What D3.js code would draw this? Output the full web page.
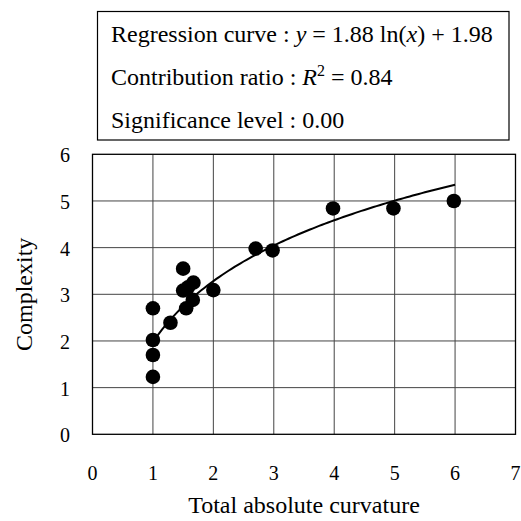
<!DOCTYPE html>
<html>
<head>
<meta charset="utf-8">
<script src="https://cdn.jsdelivr.net/npm/d3@7"></script>
<style>
  body { margin: 0; background: #fff; }
  text { font-family: "Liberation Serif", "Times New Roman", serif; fill: #000; }
</style>
</head>
<body>
<svg id="chart" width="521" height="521"></svg>
<script>
// curvature vs complexity
var curvature  = [1, 1, 1, 1, 1.29, 1.5, 1.5, 1.58, 1.55, 1.67, 1.66, 2, 2.7, 2.98, 3.98, 4.98, 5.98];
var complexity = [2.7, 2.02, 1.7, 1.23, 2.39, 3.55, 3.08, 3.15, 2.7, 3.25, 2.88, 3.09, 3.98, 3.94, 4.84, 4.84, 5.0];
var xTicks = [0, 1, 2, 3, 4, 5, 6, 7];
var yTicks = [0, 1, 2, 3, 4, 5, 6];
var coefA = 1.88, coefB = 1.98;   // y = a ln(x) + b
var fitRange = [1, 6];

var svg = d3.select("#chart");
var margin = {left: 92.5, right: 5.5, top: 154.3, bottom: 86.7};
var width = 521 - margin.left - margin.right;
var height = 521 - margin.top - margin.bottom;

var x = d3.scaleLinear().domain([0, 7]).range([margin.left, margin.left + width]);
var y = d3.scaleLinear().domain([0, 6]).range([margin.top + height, margin.top]);

// grid
var grid = svg.append("g").attr("stroke", "#444").attr("stroke-width", 1);
grid.selectAll("line.h").data(yTicks.slice(1, -1)).join("line")
    .attr("x1", x(0)).attr("x2", x(7))
    .attr("y1", d => y(d)).attr("y2", d => y(d));
grid.selectAll("line.v").data(xTicks.slice(1, -1)).join("line")
    .attr("y1", y(0)).attr("y2", y(6))
    .attr("x1", d => x(d)).attr("x2", d => x(d));

svg.append("rect")
    .attr("x", x(0)).attr("y", y(6))
    .attr("width", width).attr("height", height)
    .attr("fill", "none").attr("stroke", "#000").attr("stroke-width", 1.3);

// tick labels
svg.append("g").selectAll("text").data(xTicks).join("text")
    .attr("x", d => x(d)).attr("y", y(0) + 46)
    .attr("text-anchor", "middle").attr("font-size", 20)
    .text(d => d);
svg.append("g").selectAll("text").data(yTicks).join("text")
    .attr("x", 70).attr("y", d => y(d) + 8)
    .attr("text-anchor", "end").attr("font-size", 20)
    .text(d => d);

// axis titles
svg.append("text")
    .attr("x", x(3.5)).attr("y", 513)
    .attr("text-anchor", "middle").attr("font-size", 24)
    .text("Total absolute curvature");
svg.append("text")
    .attr("transform", "translate(32," + y(3) + ") rotate(-90)")
    .attr("text-anchor", "middle").attr("font-size", 24)
    .text("Complexity");

// regression curve
var curve = d3.range(fitRange[0], fitRange[1] + 0.001, 0.05);
svg.append("path")
    .datum(curve)
    .attr("fill", "none").attr("stroke", "#000").attr("stroke-width", 2)
    .attr("d", d3.line().x(d => x(d)).y(d => y(coefA * Math.log(d) + coefB)));

// points
svg.append("g").selectAll("circle").data(curvature).join("circle")
    .attr("cx", d => x(d))
    .attr("cy", (d, i) => y(complexity[i]))
    .attr("r", 7.3).attr("fill", "#000");

// legend box
svg.append("rect")
    .attr("x", 97.5).attr("y", 11.5).attr("width", 411.5).attr("height", 128.5)
    .attr("fill", "#fff").attr("stroke", "#000").attr("stroke-width", 1.2);

var fs = 24;
var t1 = svg.append("text").attr("x", 111).attr("y", 42).attr("font-size", fs);
t1.append("tspan").text("Regression curve : ");
t1.append("tspan").attr("font-style", "italic").text("y");
t1.append("tspan").text(" = " + coefA + " ln(");
t1.append("tspan").attr("font-style", "italic").text("x");
t1.append("tspan").text(") + " + coefB);

var t2 = svg.append("text").attr("x", 111).attr("y", 85).attr("font-size", fs);
t2.append("tspan").text("Contribution ratio : ");
t2.append("tspan").attr("font-style", "italic").text("R");
t2.append("tspan").attr("font-size", 16).attr("dy", -9).text("2");
t2.append("tspan").attr("dy", 9).text(" = 0.84");

svg.append("text").attr("x", 111).attr("y", 128).attr("font-size", fs)
    .text("Significance level : 0.00");
</script>
</body>
</html>
